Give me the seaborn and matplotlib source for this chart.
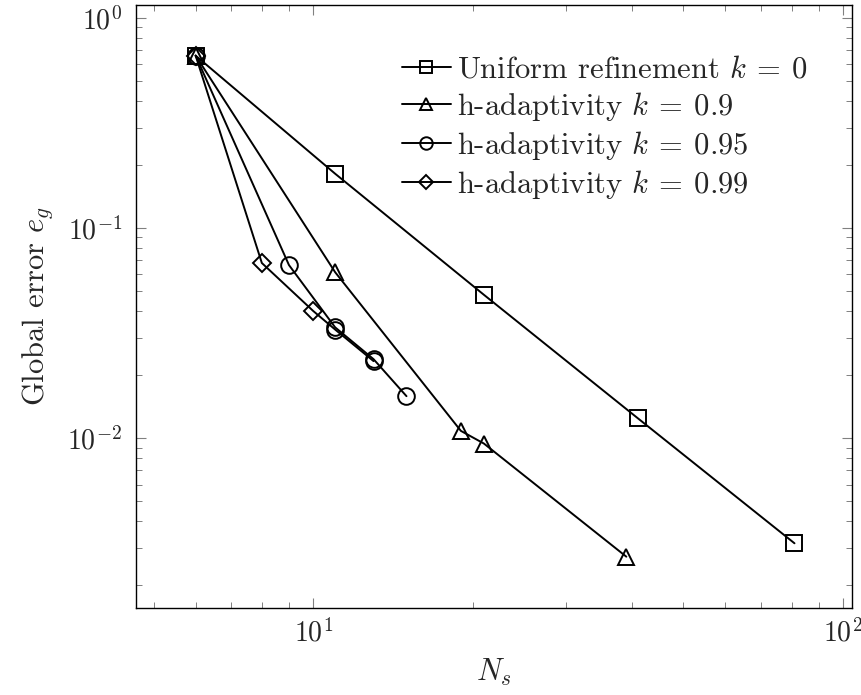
import matplotlib
matplotlib.use("Agg")
import matplotlib.pyplot as plt
import matplotlib.ticker as mticker
import seaborn as sns
import pandas as pd

# ---- data ----
ns_uniform = [6, 11, 21, 41, 81]
err_uniform = [0.66, 0.181, 0.048, 0.0124, 0.00315]

ns_k090 = [6, 11, 19, 21, 39]
err_k090 = [0.66, 0.0615, 0.0108, 0.0094, 0.00272]

ns_k095 = [6, 9, 11, 13, 15]
err_k095 = [0.66, 0.0665, 0.0336, 0.0237, 0.0158]

ns_k099 = [6, 8, 10, 11, 13]
err_k099 = [0.66, 0.068, 0.0402, 0.0328, 0.0232]

labels = [r"Uniform refinement $k\:=\:0$", r"h-adaptivity $k\:=\:0.9$",
          r"h-adaptivity $k\:=\:0.95$", r"h-adaptivity $k\:=\:0.99$"]

sns.set_style("white")
plt.rcParams["font.family"] = "serif"
plt.rcParams["font.serif"] = ["cmr10", "DejaVu Serif"]
plt.rcParams["mathtext.fontset"] = "cm"
plt.rcParams["axes.formatter.use_mathtext"] = True

fig = plt.figure(figsize=(8.62, 6.95), dpi=100)
ax = fig.add_axes([0.1578, 0.1252, 0.8306, 0.8676])

common = dict(color="black", linewidth=1.4, markerfacecolor="none",
              markeredgecolor="black", markeredgewidth=1.4, ax=ax, sort=False)

df_u = pd.DataFrame({"Ns": ns_uniform, "err": err_uniform})
df_a = pd.DataFrame({"Ns": ns_k090, "err": err_k090})
df_b = pd.DataFrame({"Ns": ns_k095, "err": err_k095})
df_c = pd.DataFrame({"Ns": ns_k099, "err": err_k099})

sns.lineplot(data=df_u, x="Ns", y="err", marker="s", markersize=12, label=labels[0], **common)
sns.lineplot(data=df_a, x="Ns", y="err", marker="^", markersize=11, label=labels[1], **common)
sns.lineplot(data=df_b, x="Ns", y="err", marker="o", markersize=12, label=labels[2], **common)
sns.lineplot(data=df_c, x="Ns", y="err", marker="D", markersize=9, markevery=[0, 1, 2],
             label=labels[3], **common)
# last points of k=0.99 series drawn as circles (overlapping k=0.95)
sns.lineplot(data=df_c.iloc[3:], x="Ns", y="err", marker="o", markersize=12,
             linestyle="", ax=ax, color="black", markerfacecolor="none",
             markeredgecolor="black", markeredgewidth=1.4, legend=False, sort=False)

ax.set_xscale("log")
ax.set_yscale("log")
ax.set_xlim(4.63, 104)
ax.set_ylim(0.00155, 1.15)

ax.xaxis.set_minor_formatter(mticker.NullFormatter())
ax.yaxis.set_minor_formatter(mticker.NullFormatter())
ax.xaxis.set_major_locator(mticker.LogLocator(base=10))
ax.yaxis.set_major_locator(mticker.LogLocator(base=10))
ax.xaxis.set_minor_locator(mticker.LogLocator(base=10, subs=range(2, 10)))
ax.yaxis.set_minor_locator(mticker.LogLocator(base=10, subs=range(2, 10)))

ax.tick_params(which="both", direction="in", top=True, right=True, bottom=True, left=True,
               color="0.5", labelsize=20)
ax.tick_params(which="major", length=7, width=0.8)
ax.tick_params(axis="x", which="major", pad=8)
ax.tick_params(axis="y", which="major", pad=10)
ax.tick_params(which="minor", length=4, width=0.7)
for sp in ax.spines.values():
    sp.set_color("black")
    sp.set_linewidth(1.0)

ax.set_xlabel(r"$N_s$", fontsize=22, labelpad=6)
ax.set_ylabel(r"Global error $e_g$", fontsize=22, labelpad=9)

leg = ax.legend(loc="upper right", bbox_to_anchor=(0.955, 0.935), frameon=False,
                fontsize=22, handlelength=1.6, handletextpad=0.2, labelspacing=0.2,
                markerscale=0.75, borderaxespad=0)

fig.savefig("out.png", dpi=100)
